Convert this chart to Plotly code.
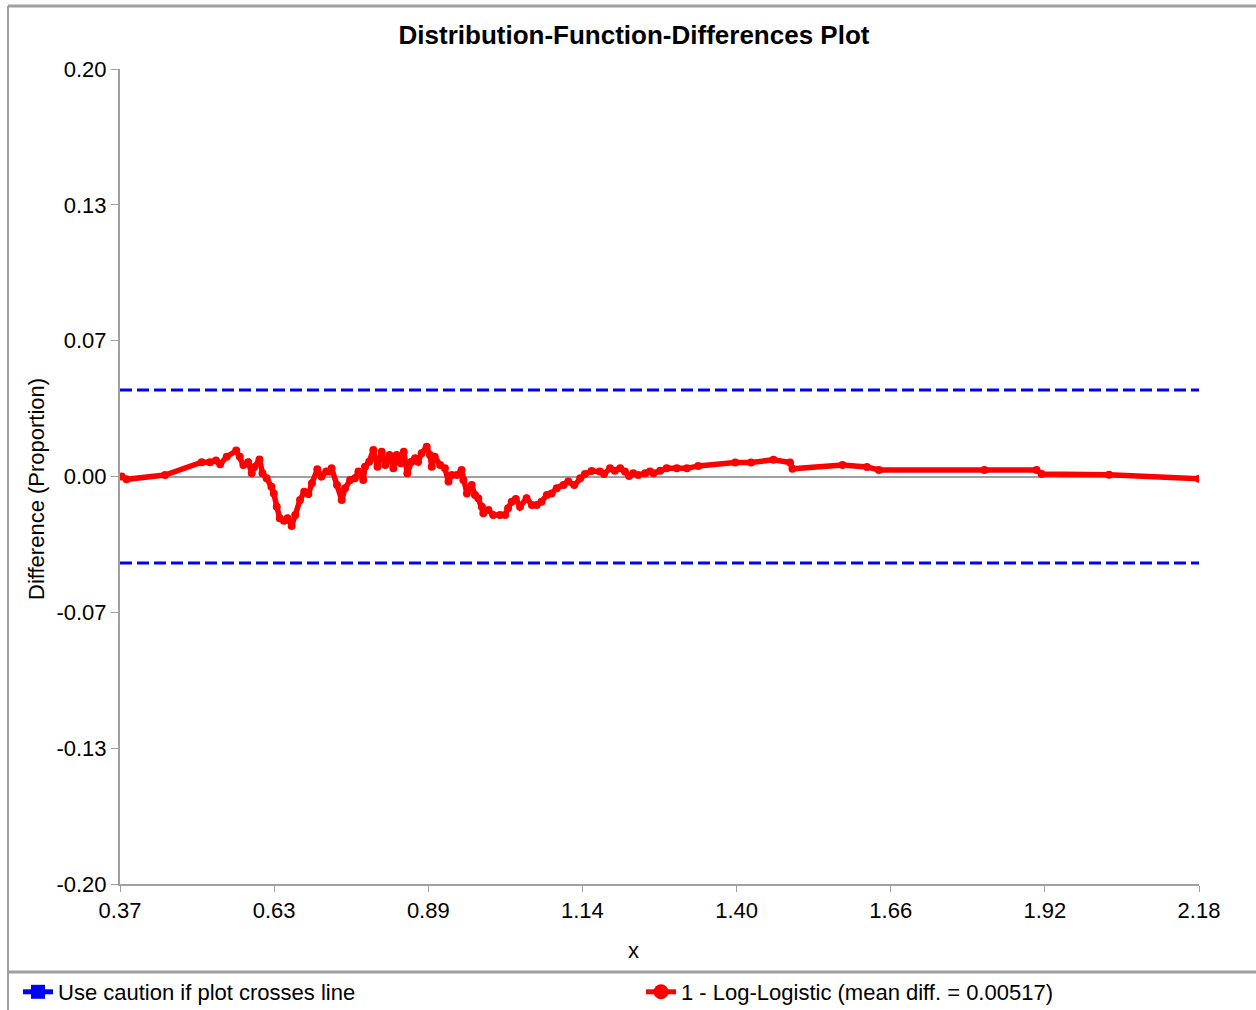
import numpy as np
import plotly.graph_objects as go

# ---- data ----
diff_x = [0.373, 0.381, 0.4455, 0.507, 0.521, 0.531, 0.538, 0.549, 0.565, 0.571,
          0.577, 0.585, 0.591, 0.595, 0.604, 0.609, 0.616, 0.624, 0.628, 0.633,
          0.638, 0.645, 0.651, 0.658, 0.664, 0.672, 0.679, 0.686, 0.692, 0.701,
          0.708, 0.716, 0.722, 0.725, 0.734, 0.742, 0.7475, 0.756, 0.764, 0.770,
          0.778, 0.781, 0.788, 0.795, 0.802, 0.809, 0.815, 0.822, 0.8285, 0.834,
          0.841, 0.846, 0.852, 0.859, 0.865, 0.870, 0.876, 0.8845, 0.890, 0.893,
          0.898, 0.907, 0.915, 0.921, 0.9265, 0.935, 0.943, 0.946, 0.952, 0.960,
          0.9655, 0.971, 0.977, 0.9795, 0.988, 0.996, 1.0075, 1.016, 1.021, 1.027,
          1.034, 1.041, 1.052, 1.061, 1.069, 1.077, 1.086, 1.094, 1.1026, 1.114,
          1.122, 1.132, 1.142, 1.150, 1.161, 1.175, 1.182, 1.192, 1.200, 1.209,
          1.217, 1.224, 1.231, 1.2395, 1.251, 1.259, 1.265, 1.276, 1.287, 1.304,
          1.321, 1.340, 1.402, 1.4285, 1.466, 1.494, 1.498, 1.582, 1.623, 1.643,
          1.820, 1.9075, 1.916, 2.029, 2.180]
diff_y = [0.0000, -0.0014, 0.0007, 0.0070, 0.0070, 0.0078, 0.0060, 0.0097, 0.0127, 0.0097,
          0.0056, 0.0070, 0.0016, 0.0045, 0.0084, 0.0016, -0.0009, -0.0050, -0.0083, -0.0148,
          -0.0205, -0.0217, -0.0205, -0.0243, -0.0189, -0.0115, -0.0075, -0.0086, -0.0033, 0.0035,
          0.0000, 0.0024, 0.0024, 0.0040, -0.0042, -0.0115, -0.0058, -0.0017, -0.0009, 0.0024,
          -0.0017, 0.0048, 0.0073, 0.0130, 0.0048, 0.0122, 0.0056, 0.0106, 0.0040, 0.0106,
          0.0065, 0.0122, 0.0016, 0.0073, 0.0089, 0.0073, 0.0114, 0.0146, 0.0106, 0.0048,
          0.0097, 0.0056, 0.0040, -0.0025, 0.0007, 0.0007, 0.0032, -0.0017, -0.0083, -0.0042,
          -0.0091, -0.0107, -0.0148, -0.0180, -0.0164, -0.0189, -0.0189, -0.0189, -0.0156, -0.0124,
          -0.0110, -0.0148, -0.0107, -0.0140, -0.0140, -0.0124, -0.0091, -0.0083, -0.0058, -0.0042,
          -0.0025, -0.0042, -0.0009, 0.0012, 0.0027, 0.0024, 0.0012, 0.0040, 0.0028, 0.0040,
          0.0024, 0.0002, 0.0016, 0.0007, 0.0016, 0.0024, 0.0016, 0.0028, 0.0040, 0.0040,
          0.0040, 0.0052, 0.0069, 0.0069, 0.0082, 0.0069, 0.0038, 0.0056, 0.0047, 0.0032,
          0.0032, 0.0032, 0.0012, 0.0009, -0.0011]

caution_level = 0.0425
x_range = [0.37, 2.18]
y_range = [-0.20, 0.20]
x_tick_labels = ["0.37", "0.63", "0.89", "1.14", "1.40", "1.66", "1.92", "2.18"]
y_tick_labels = ["-0.20", "-0.13", "-0.07", "0.00", "0.07", "0.13", "0.20"]

title_text = "Distribution-Function-Differences Plot"
x_title = "x"
y_title = "Difference (Proportion)"
caution_name = "Use caution if plot crosses line"
series_name = "1 - Log-Logistic (mean diff. = 0.00517)"

FONT = "Arial, 'Liberation Sans', sans-serif"
GRAY = "#a0a0a0"
BLUE = "#0000ff"
RED = "#ff0000"

fig = go.Figure()

# caution lines (dashed)
for lvl in (caution_level, -caution_level):
    fig.add_trace(go.Scatter(x=x_range, y=[lvl, lvl], mode="lines",
                             line=dict(color=BLUE, width=3, dash="12px,5px"),
                             showlegend=False, hoverinfo="skip"))

# difference curve
fig.add_trace(go.Scatter(x=diff_x, y=diff_y, mode="lines+markers", name=series_name,
                         line=dict(color=RED, width=5.5),
                         marker=dict(color=RED, size=8), showlegend=False))

# legend entries
fig.add_trace(go.Scatter(x=[None], y=[None], mode="lines+markers", name=caution_name,
                         line=dict(color=BLUE, width=5),
                         marker=dict(color=BLUE, symbol="square", size=14),
                         legend="legend"))
fig.add_trace(go.Scatter(x=[None], y=[None], mode="lines+markers", name=series_name,
                         line=dict(color=RED, width=5),
                         marker=dict(color=RED, symbol="circle", size=15),
                         legend="legend2"))

W, H = 1256, 1010
L, R, T, B = 120, 57, 69, 126
pw, ph = W - L - R, H - T - B


def px_to_paper_x(px):
    return (px - L) / pw


def px_to_paper_y(py):
    return (H - B - py) / ph


legend_common = dict(orientation="h", xanchor="left", yanchor="middle",
                     font=dict(size=22, family=FONT, color="black"),
                     bgcolor="rgba(0,0,0,0)", borderwidth=0)

fig.update_layout(
    width=W, height=H,
    margin=dict(l=L, r=R, t=T, b=B, pad=0, autoexpand=False),
    paper_bgcolor="white", plot_bgcolor="white",
    font=dict(family=FONT, size=22, color="black"),
    title=dict(text="<b>" + title_text + "</b>", x=634 / W, xref="container",
               xanchor="center", y=1 - 35 / H, yref="container", yanchor="middle",
               font=dict(size=26, family=FONT, color="black")),
    showlegend=True,
    legend=dict(x=px_to_paper_x(18), y=px_to_paper_y(992), **legend_common),
    legend2=dict(x=px_to_paper_x(641), y=px_to_paper_y(992), **legend_common),
    xaxis=dict(range=x_range, tickmode="array",
               tickvals=list(np.linspace(x_range[0], x_range[1], len(x_tick_labels))),
               ticktext=x_tick_labels, showgrid=False, zeroline=False,
               showline=True, linecolor=GRAY, linewidth=2,
               ticks="outside", ticklen=6, tickcolor=GRAY, tickwidth=1,
               tickfont=dict(size=22), fixedrange=True),
    yaxis=dict(range=y_range, tickmode="array",
               tickvals=list(np.linspace(y_range[0], y_range[1], len(y_tick_labels))),
               ticktext=y_tick_labels, showgrid=False,
               zeroline=True, zerolinecolor=GRAY, zerolinewidth=2,
               showline=True, linecolor=GRAY, linewidth=2,
               ticks="outside", ticklen=7, tickcolor=GRAY, tickwidth=1,
               tickfont=dict(size=22), fixedrange=True),
    annotations=[
        dict(text=y_title, textangle=-90, xref="paper", yref="paper",
             x=px_to_paper_x(36), y=px_to_paper_y(489), xanchor="center",
             yanchor="middle", showarrow=False, font=dict(size=22)),
        dict(text=x_title, xref="paper", yref="paper",
             x=px_to_paper_x(633), y=px_to_paper_y(950), xanchor="center",
             yanchor="middle", showarrow=False, font=dict(size=22)),
    ],
    shapes=[
        # outer frame: top, left
        dict(type="line", xref="paper", yref="paper",
             x0=px_to_paper_x(8), x1=px_to_paper_x(W), y0=px_to_paper_y(6), y1=px_to_paper_y(6),
             line=dict(color=GRAY, width=3)),
        dict(type="line", xref="paper", yref="paper",
             x0=px_to_paper_x(8), x1=px_to_paper_x(8), y0=px_to_paper_y(6), y1=px_to_paper_y(H),
             line=dict(color=GRAY, width=2)),
        # legend separator
        dict(type="line", xref="paper", yref="paper",
             x0=px_to_paper_x(8), x1=px_to_paper_x(W), y0=px_to_paper_y(972), y1=px_to_paper_y(972),
             line=dict(color=GRAY, width=3)),
    ],
)

fig.write_html("out.html", config={"displayModeBar": False},
               post_script="document.body.style.margin='0';document.body.style.overflow='hidden';")
